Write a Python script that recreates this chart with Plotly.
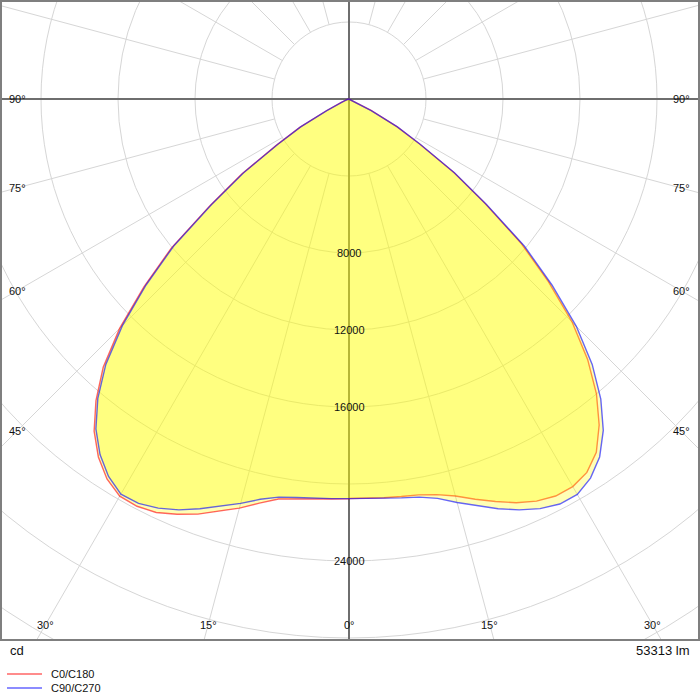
import numpy as np
import plotly.graph_objects as go

# ---------------- data ----------------
gamma = [0, 2.5, 5, 7.5, 10, 12.5, 15, 17.5, 20, 22.5, 25, 27.5, 30, 32.5, 35, 37.5,
         40, 42.5, 45, 47.5, 50, 52.5, 55, 57.5, 60, 62.5, 65, 67.5, 70, 72.5, 75,
         77.5, 80, 82.5, 85, 87.5, 90]

# luminous intensity (cd) per C-plane half
i_c0 = [20750, 20760, 20790, 20830, 20880, 21050, 21350, 21800, 22250, 22700, 23050,
        23250, 23250, 23000, 22400, 21350, 20000, 18350, 16400, 14050, 11700, 8900,
        6650, 4350, 2870, 1290, 445, 200, 100, 60, 40, 30, 20, 15, 10, 5, 0]
i_c180 = [20770, 20800, 20870, 20960, 21100, 21500, 22000, 22450, 22950, 23350, 23700,
          23850, 23820, 23400, 22700, 21750, 20450, 18900, 16850, 14450, 12050, 9100,
          6800, 4480, 2950, 1320, 460, 200, 100, 60, 40, 30, 20, 15, 10, 5, 0]
i_c90 = [20760, 20780, 20830, 20900, 21000, 21250, 21700, 22150, 22650, 23100, 23480,
         23720, 23720, 23350, 22700, 21700, 20350, 18700, 16700, 14300, 11900, 9000,
         6700, 4400, 2900, 1300, 450, 200, 100, 60, 40, 30, 20, 15, 10, 5, 0]
i_c270 = [20760, 20780, 20820, 20880, 21000, 21300, 21750, 22180, 22650, 23100, 23450,
          23680, 23700, 23250, 22550, 21600, 20300, 18700, 16650, 14300, 11900, 9000,
          6700, 4400, 2900, 1300, 450, 200, 100, 60, 40, 30, 20, 15, 10, 5, 0]

series_names = ["C0/C180", "C90/C270"]
ring_values = [4000, 8000, 12000, 16000, 20000, 24000, 28000, 32000]
ring_labels = [8000, 12000, 16000, 24000]
side_angles = [90, 75, 60, 45]
bottom_angles = [0, 15, 30]
spoke_step = 15
unit_label = "cd"
flux_label = "53313 lm"

# ---------------- geometry / style ----------------
W, H = 700, 700
CX, CY = 349, 99            # pixel position of the polar centre
PX_PER_CD = 19.25 / 1000.0  # scale
K = 1.0 / PX_PER_CD         # cd per pixel
ML, MR, MT, MB = 1, 1, 1, 60
PLOT_W = W - ML - MR
PLOT_H = H - MT - MB
x_range = [(ML - CX) * K, (W - MR - CX) * K]
y_range = [(CY - (H - MB)) * K, (CY - MT) * K]


def paper_x(px):
    return (px - ML) / PLOT_W


def paper_y(py):
    return (H - MB - py) / PLOT_H


FONT = "Liberation Sans"
GRID = "#d6d6d6"
AXIS = "#6e6e6e"
LINE_COLORS = ["rgba(255,0,0,0.6)", "rgba(0,0,255,0.6)"]
LEGEND_COLORS = ["rgba(255,0,0,0.45)", "rgba(0,0,255,0.45)"]
FILL = "rgba(255,255,0,0.29)"


def outline(right, left):
    g = np.radians(np.array(gamma, dtype=float))
    r = np.array(right, dtype=float)
    l = np.array(left, dtype=float)
    xr, yr = r * np.sin(g), -r * np.cos(g)
    xl, yl = -l * np.sin(g), -l * np.cos(g)
    return np.concatenate([xr, xl[::-1]]), np.concatenate([yr, yl[::-1]])


fig = go.Figure()

for (right, left), col, name in zip([(i_c0, i_c180), (i_c90, i_c270)], LINE_COLORS, series_names):
    x, y = outline(right, left)
    fig.add_trace(go.Scatter(x=x, y=y, mode="lines", fill="toself", fillcolor=FILL,
                             line=dict(color=col, width=1.4), name=name,
                             showlegend=False, hoverinfo="skip"))

shapes = []
for rv in ring_values:
    shapes.append(dict(type="circle", xref="x", yref="y", x0=-rv, x1=rv, y0=-rv, y1=rv,
                       line=dict(color=GRID, width=1), layer="below"))
for a in range(0, 360, spoke_step):
    if a % 90 == 0:
        continue
    t = np.radians(a)
    r0, r1 = ring_values[0], 60000
    shapes.append(dict(type="line", xref="x", yref="y",
                       x0=r0 * np.sin(t), y0=-r0 * np.cos(t),
                       x1=r1 * np.sin(t), y1=-r1 * np.cos(t),
                       line=dict(color=GRID, width=1), layer="below"))
shapes.append(dict(type="line", xref="x", yref="y", x0=-60000, x1=60000, y0=0, y1=0,
                   line=dict(color=AXIS, width=2), layer="below"))
shapes.append(dict(type="line", xref="x", yref="y", x0=0, x1=0, y0=-60000, y1=60000,
                   line=dict(color=AXIS, width=2), layer="below"))
shapes.append(dict(type="rect", xref="paper", yref="paper", x0=0, x1=1, y0=0, y1=1,
                   line=dict(color="#7f7f7f", width=2), layer="above"))

annotations = []
for rv in ring_labels:
    annotations.append(dict(x=0, y=-rv, xref="x", yref="y", text=str(rv), showarrow=False,
                            font=dict(family=FONT, size=11, color="#111111")))
side_dx = 332 * K
for a in side_angles:
    t = np.radians(a)
    yy = -side_dx / np.tan(t) if a != 90 else 0.0
    for sgn in (-1, 1):
        annotations.append(dict(x=sgn * side_dx, y=yy, xref="x", yref="y", text=f"{a}°",
                                showarrow=False,
                                font=dict(family=FONT, size=11, color="#111111")))
bottom_dy = 526 * K
for a in bottom_angles:
    t = np.radians(a)
    xs = [0.0] if a == 0 else [-bottom_dy * np.tan(t), bottom_dy * np.tan(t)]
    for xx in xs:
        annotations.append(dict(x=xx, y=-bottom_dy, xref="x", yref="y", text=f"{a}°",
                                showarrow=False,
                                font=dict(family=FONT, size=11, color="#111111")))

annotations.append(dict(x=paper_x(8), y=paper_y(650), xref="paper", yref="paper",
                        xanchor="left", yanchor="middle", text=unit_label, showarrow=False,
                        font=dict(family=FONT, size=13, color="#111111")))
annotations.append(dict(x=paper_x(691), y=paper_y(650), xref="paper", yref="paper",
                        xanchor="right", yanchor="middle", text=flux_label, showarrow=False,
                        font=dict(family=FONT, size=13, color="#111111")))

# legend (drawn below the frame)
for k, (name, col) in enumerate(zip(series_names, LEGEND_COLORS)):
    py = 674 + 14 * k
    shapes.append(dict(type="line", xref="paper", yref="paper",
                       x0=paper_x(7), x1=paper_x(42), y0=paper_y(py), y1=paper_y(py),
                       line=dict(color=col, width=2)))
    annotations.append(dict(x=paper_x(49), y=paper_y(py), xref="paper", yref="paper",
                            xanchor="left", yanchor="middle", text=name, showarrow=False,
                            font=dict(family=FONT, size=11, color="#111111")))

fig.update_layout(
    width=W, height=H,
    margin=dict(l=ML, r=MR, t=MT, b=MB),
    paper_bgcolor="white", plot_bgcolor="white",
    xaxis=dict(range=x_range, visible=False, showgrid=False, zeroline=False, fixedrange=True),
    yaxis=dict(range=y_range, visible=False, showgrid=False, zeroline=False, fixedrange=True),
    shapes=shapes, annotations=annotations,
    showlegend=False,
)

fig.write_html("out.html")
